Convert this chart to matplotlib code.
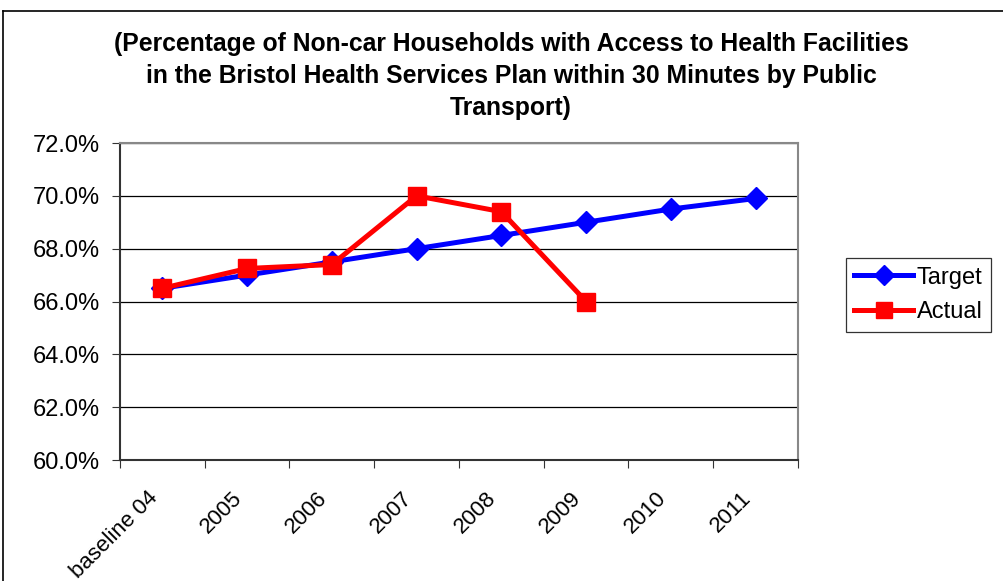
import matplotlib
matplotlib.use('Agg')
import matplotlib.pyplot as plt
import matplotlib.transforms as mtransforms
from matplotlib.lines import Line2D
import numpy as np

plt.rcParams['font.family'] = ['Liberation Sans', 'DejaVu Sans']

categories = ['baseline 04', '2005', '2006', '2007', '2008', '2009', '2010', '2011']
target = [66.5, 67.0, 67.5, 68.0, 68.5, 69.0, 69.5, 69.9]
actual = [66.5, 67.25, 67.4, 70.0, 69.4, 66.0]
title = ('(Percentage of Non-car Households with Access to Health Facilities\n'
         'in the Bristol Health Services Plan within 30 Minutes by Public\n'
         'Transport)')

fig = plt.figure(figsize=(10.04, 5.81), dpi=100)
ax = fig.add_axes([120 / 1004, 1 - 460 / 581, 678 / 1004, 317 / 581])

x = np.arange(len(categories))
ax.plot(x, target, color='#0000FF', lw=3.6, marker='D', ms=11.5, label='Target', zorder=3)
ax.plot(x[:len(actual)], actual, color='#FF0000', lw=3.6, marker='s', ms=13, label='Actual', zorder=4)

ax.set_xlim(-0.5, len(categories) - 0.5)
ax.set_ylim(60, 72)
yt = np.arange(60, 72.1, 2)
ax.set_yticks(yt)
ax.set_yticklabels([f'{v:.1f}%' for v in yt], fontsize=17)
ax.yaxis.grid(True, color='black', lw=0.9)
ax.set_axisbelow(True)

ax.set_xticks(np.arange(-0.5, len(categories), 1))
ax.set_xticklabels([])
ax.set_xticks(x, minor=True)
ax.set_xticklabels(categories, minor=True, fontsize=16, rotation=45,
                   ha='right', va='center', rotation_mode='anchor')
ax.tick_params(axis='x', which='minor', length=0, pad=25)
ax.tick_params(axis='x', which='major', length=6, direction='out', color='#333333')
ax.tick_params(axis='y', length=6, direction='out', color='#333333', pad=8.5)
shift = mtransforms.ScaledTranslation(-8 / 100, 0, fig.dpi_scale_trans)
for lab in ax.get_xticklabels(minor=True):
    lab.set_transform(lab.get_transform() + shift)

for s in ['top', 'right']:
    ax.spines[s].set_color('#888888')
    ax.spines[s].set_linewidth(1.5)
for s in ['left', 'bottom']:
    ax.spines[s].set_color('#333333')
    ax.spines[s].set_linewidth(1.5)

fig.text(511 / 1004, 1 - 76 / 581, title, ha='center', va='center', fontsize=17.8,
         fontweight='bold', linespacing=1.4)

leg = ax.legend(loc='center', bbox_to_anchor=(918.5 / 1004, 1 - 295 / 581),
                bbox_transform=fig.transFigure, fontsize=17, frameon=True,
                fancybox=False, edgecolor='black', handlelength=2.5,
                handletextpad=0.15, borderpad=0.35, labelspacing=0.55,
                borderaxespad=0, markerscale=0.85)
leg.get_frame().set_linewidth(0.9)

# outer chart border
fig.add_artist(Line2D([3 / 1004, 3 / 1004], [0, 1 - 11 / 581], color='black', lw=1.2,
                      transform=fig.transFigure))
fig.add_artist(Line2D([3 / 1004, 1], [1 - 11 / 581, 1 - 11 / 581], color='black', lw=1.2,
                      transform=fig.transFigure))

fig.savefig('out.png', dpi=100)
